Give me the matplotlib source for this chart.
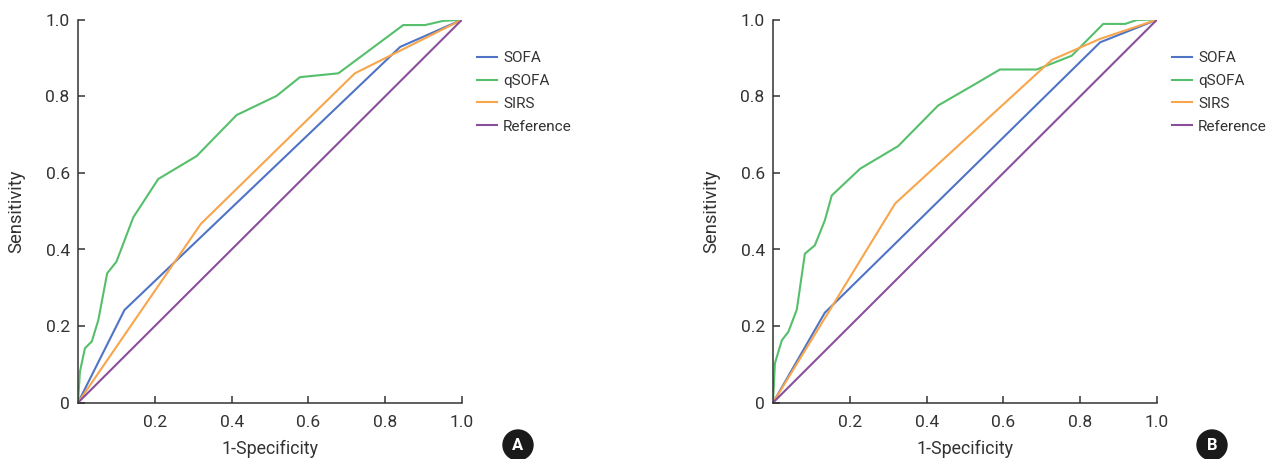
import matplotlib
matplotlib.use("Agg")
import matplotlib.pyplot as plt
from matplotlib.patches import Ellipse

plt.rcParams['font.family'] = ['Roboto', 'DejaVu Sans']

# ROC curves, panel A
a_sofa_x = [0, 0.121, 0.839, 1.0]
a_sofa_y = [0, 0.242, 0.929, 1.0]
a_qsofa_x = [0, 0.005, 0.018, 0.036, 0.053, 0.076, 0.100, 0.144, 0.209, 0.309,
             0.413, 0.517, 0.578, 0.678, 0.847, 0.904, 0.951, 1.0]
a_qsofa_y = [0, 0.081, 0.142, 0.160, 0.216, 0.338, 0.368, 0.484, 0.584, 0.644,
             0.751, 0.801, 0.850, 0.860, 0.986, 0.986, 0.997, 1.0]
a_sirs_x = [0, 0.320, 0.721, 1.0]
a_sirs_y = [0, 0.467, 0.860, 1.0]

# ROC curves, panel B
b_sofa_x = [0, 0.135, 0.852, 1.0]
b_sofa_y = [0, 0.235, 0.941, 1.0]
b_qsofa_x = [0, 0.005, 0.023, 0.040, 0.062, 0.083, 0.109, 0.135, 0.153, 0.227,
             0.326, 0.430, 0.530, 0.591, 0.687, 0.778, 0.860, 0.917, 0.947, 0.973, 1.0]
b_qsofa_y = [0, 0.103, 0.163, 0.185, 0.243, 0.389, 0.411, 0.476, 0.541, 0.611,
             0.670, 0.776, 0.834, 0.870, 0.870, 0.906, 0.989, 0.989, 0.999, 1.0, 1.0]
b_sirs_x = [0, 0.318, 0.726, 0.852, 1.0]
b_sirs_y = [0, 0.520, 0.895, 0.950, 1.0]

ref_x = [0, 1]
ref_y = [0, 1]

labels = ["SOFA", "qSOFA", "SIRS", "Reference"]
colors = ["#4f74c6", "#55bf6b", "#f8a54c", "#8a4f9c"]
panels = ["A", "B"]

W, H = 1267, 459
fig = plt.figure(figsize=(W / 100, H / 100), dpi=100)

txt = "#333333"
axes_left = [78, 773]
data = [
    [(a_sofa_x, a_sofa_y), (a_qsofa_x, a_qsofa_y), (a_sirs_x, a_sirs_y), (ref_x, ref_y)],
    [(b_sofa_x, b_sofa_y), (b_qsofa_x, b_qsofa_y), (b_sirs_x, b_sirs_y), (ref_x, ref_y)],
]
badge_x = [518, 1212]

for i in range(2):
    ax = fig.add_axes([axes_left[i] / W, 1 - 402.7 / H, 384 / W, 383 / H])
    for (xs, ys), lab, col in zip(data[i], labels, colors):
        ax.plot(xs, ys, color=col, lw=1.5, label=lab, solid_joinstyle='miter')
    ax.set_xlim(0, 1)
    ax.set_ylim(0, 1)
    for s in ['top', 'right']:
        ax.spines[s].set_visible(False)
    for s in ['left', 'bottom']:
        ax.spines[s].set_color(txt)
        ax.spines[s].set_linewidth(1.1)
    ax.set_xticks([0.2, 0.4, 0.6, 0.8, 1.0])
    ax.set_xticklabels(["0.2", "0.4", "0.6", "0.8", "1.0"])
    ax.set_yticks([0, 0.2, 0.4, 0.6, 0.8, 1.0])
    ax.set_yticklabels(["0", "0.2", "0.4", "0.6", "0.8", "1.0"])
    ax.tick_params(direction='in', length=5, width=1.1, color=txt,
                   labelcolor=txt, labelsize=12.5)
    ax.tick_params(axis='y', pad=6)
    ax.tick_params(axis='x', pad=9)
    ax.set_xlabel("1-Specificity", fontsize=12.8, color=txt)
    ax.set_ylabel("Sensitivity", fontsize=13.2, color=txt)
    ax.xaxis.set_label_coords(0.5, -0.098)
    ax.yaxis.set_label_coords(-0.137, 0.5)
    ax.legend(loc='upper left', bbox_to_anchor=(1.039, 0.918), frameon=False,
              fontsize=11, handlelength=1.3, handletextpad=0.4,
              labelspacing=0.58, borderpad=0, borderaxespad=0,
              labelcolor=txt)

    fig.add_artist(Ellipse((badge_x[i] / W, 1 - 445 / H), 30 / W, 30 / H,
                           transform=fig.transFigure, color="#1a1a1a"))
    fig.text(badge_x[i] / W, 1 - 445 / H, panels[i], color='white',
             fontsize=12, fontweight='bold', ha='center', va='center')

fig.savefig("out.png", dpi=100)
